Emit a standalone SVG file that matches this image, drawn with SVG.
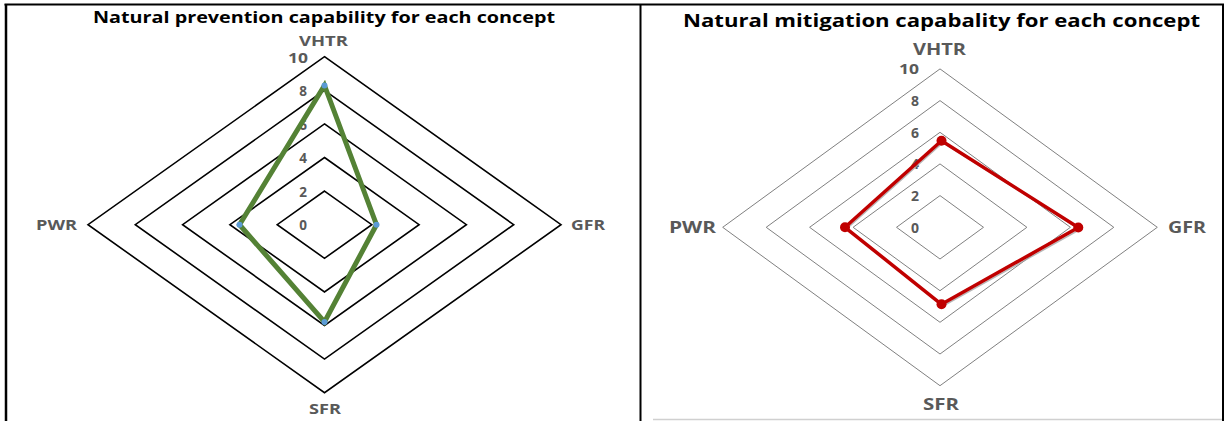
<svg xmlns="http://www.w3.org/2000/svg" width="1226" height="421" viewBox="0 0 1226 421">
<style>
.title{font-family:"Open Sans","Liberation Sans",sans-serif;font-weight:bold;fill:#000}
.axis{font-family:"Open Sans","Liberation Sans",sans-serif;font-weight:bold;fill:#595959}
.num{font-family:"Open Sans","Liberation Sans",sans-serif;font-weight:bold;fill:#595959;text-anchor:end}
.ringL{fill:none;stroke:#000;stroke-width:1.6}
.ringR{fill:none;stroke:#808080;stroke-width:1}
.border{stroke:#000;fill:none}
</style>
<rect width="1226" height="421" fill="#fff"/>
<g id="frame">
<line class="border" x1="4.5" y1="4.5" x2="1224" y2="4.5" stroke-width="2"/>
<line class="border" x1="6" y1="4" x2="6" y2="421" stroke-width="2.5"/>
<line class="border" x1="640.5" y1="4" x2="640.5" y2="421" stroke-width="2"/>
<line class="border" x1="1223" y1="4" x2="1223" y2="421" stroke-width="2"/>
<line x1="653" y1="419.5" x2="1222" y2="419.5" stroke="#d0d0d0" stroke-width="1.5"/>
</g>
<g id="chart-left">
<text class="title" x="93" y="22.5" font-size="16" textLength="462" lengthAdjust="spacingAndGlyphs">Natural prevention capability for each concept</text>
<g id="grid-left">
<polygon class="ringL" points="324.5,191.1 371.8,224.7 324.5,258.3 277.2,224.7"/>
<polygon class="ringL" points="324.5,157.5 419.1,224.7 324.5,291.9 229.9,224.7"/>
<polygon class="ringL" points="324.5,123.9 466.4,224.7 324.5,325.5 182.6,224.7"/>
<polygon class="ringL" points="324.5,90.3 513.7,224.7 324.5,359.1 135.3,224.7"/>
<polygon class="ringL" points="324.5,56.7 561,224.7 324.5,392.7 88,224.7"/>
</g>
<g id="scale-left" font-size="13.5">
<text class="num" x="308" y="62.5" textLength="20" lengthAdjust="spacingAndGlyphs">10</text>
<text class="num" x="307" y="96">8</text>
<text class="num" x="307" y="129.5">6</text>
<text class="num" x="307" y="163">4</text>
<text class="num" x="307" y="196.5">2</text>
<text class="num" x="307" y="230">0</text>
</g>
<g id="labels-left" font-size="14.5">
<text id="l-vhtr" class="axis" x="299" y="45.5" textLength="49" lengthAdjust="spacingAndGlyphs">VHTR</text>
<text id="l-gfr" class="axis" x="571" y="230" textLength="34" lengthAdjust="spacingAndGlyphs">GFR</text>
<text id="l-sfr" class="axis" x="309" y="413.5" textLength="32" lengthAdjust="spacingAndGlyphs">SFR</text>
<text id="l-pwr" class="axis" x="36" y="230" textLength="41" lengthAdjust="spacingAndGlyphs">PWR</text>
</g>
<g id="series-left">
<polygon points="324.5,85.5 376.5,224.7 324.5,322 239.5,224.7" fill="none" stroke="#548235" stroke-width="5" stroke-linejoin="miter"/>
<g fill="#5b9bd5">
<circle cx="324.5" cy="85.5" r="3"/>
<circle cx="376.5" cy="224.7" r="3"/>
<circle cx="324.5" cy="322" r="3"/>
<circle cx="239.5" cy="224.7" r="3"/>
</g>
</g>
</g>
<g id="chart-right">
<text class="title" x="683" y="27" font-size="18" textLength="517" lengthAdjust="spacingAndGlyphs">Natural mitigation capabality for each concept</text>
<g id="grid-right">
<polygon class="ringR" points="940,195.6 983.5,227.3 940,259 896.5,227.3"/>
<polygon class="ringR" points="940,163.9 1026.9,227.3 940,290.7 853.1,227.3"/>
<polygon class="ringR" points="940,132.3 1070.4,227.3 940,322.3 809.6,227.3"/>
<polygon class="ringR" points="940,100.6 1113.8,227.3 940,354 766.2,227.3"/>
<polygon class="ringR" points="940,68.9 1157.3,227.3 940,385.7 722.7,227.3"/>
</g>
<g id="scale-right" font-size="14">
<text class="num" x="919" y="73.5" textLength="20" lengthAdjust="spacingAndGlyphs">10</text>
<text class="num" x="919" y="105.5">8</text>
<text class="num" x="919" y="137.5">6</text>
<text class="num" x="919" y="169">4</text>
<text class="num" x="919" y="201">2</text>
<text class="num" x="919" y="232.5">0</text>
</g>
<g id="labels-right" font-size="16">
<text id="r-vhtr" class="axis" x="913" y="55" textLength="53" lengthAdjust="spacingAndGlyphs">VHTR</text>
<text id="r-gfr" class="axis" x="1168" y="233" textLength="38" lengthAdjust="spacingAndGlyphs">GFR</text>
<text id="r-sfr" class="axis" x="923" y="410" textLength="36" lengthAdjust="spacingAndGlyphs">SFR</text>
<text id="r-pwr" class="axis" x="669" y="233" textLength="47" lengthAdjust="spacingAndGlyphs">PWR</text>
</g>
<g id="series-right">
<polygon points="943,142.5 1080,229.5 943,306 846.5,229" fill="none" stroke="#a6a6a6" stroke-width="1.5" opacity="0.8"/>
<polygon points="941.5,140.7 1078.3,227.5 941.5,304.3 845,227.3" fill="none" stroke="#c00000" stroke-width="3.5" stroke-linejoin="round"/>
<g fill="#c00000">
<circle cx="941.5" cy="140.7" r="5"/>
<circle cx="1078.3" cy="227.5" r="5"/>
<circle cx="941.5" cy="304.3" r="5"/>
<circle cx="845" cy="227.3" r="5"/>
</g>
</g>
</g>
</svg>
